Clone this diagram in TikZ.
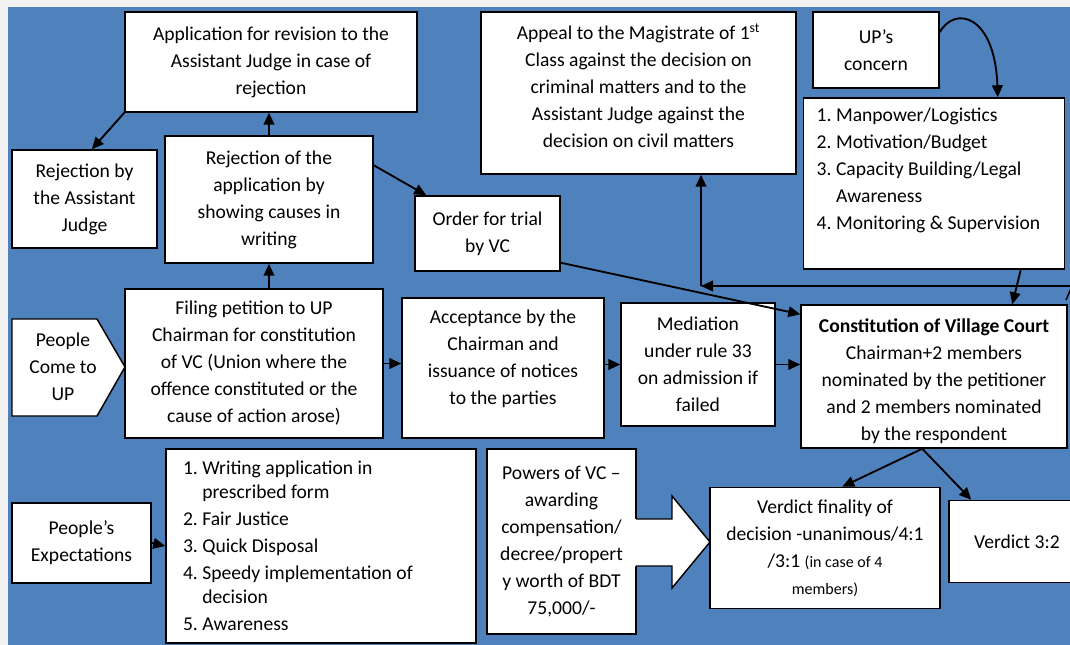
\documentclass[tikz,border=0pt]{standalone}
\usepackage{fontspec}
\setmainfont{Carlito}
\usetikzlibrary{arrows.meta,calc}
\definecolor{bgblue}{RGB}{79,129,189}
\definecolor{marg}{RGB}{242,242,242}
\newcommand{\fs}{\fontsize{14.7}{20.25}\selectfont}
\newcommand{\sm}{\fontsize{12}{17}\selectfont}
\newcommand{\nbr}[1]{\makebox[14.5pt][l]{#1}}
\newcommand{\ind}{\hspace*{14.5pt}}
\tikzset{
  box/.style={draw=black, line width=1.1pt, fill=white, inner sep=0pt, align=center, font=\fs},
  sz/.style 2 args={minimum width=#1*0.75pt, minimum height=#2*0.75pt},
  arr/.style={line width=1.4pt, -{Triangle[length=9pt,width=8pt]}},
  edgeline/.style={line width=1.1pt, line join=miter},
}
\begin{document}
\begin{tikzpicture}[x=0.75pt,y=-0.75pt]
\useasboundingbox (0,0) rectangle (1070,645);
\fill[marg] (0,0) rectangle (1070,645);
\fill[bgblue] (8,7) rectangle (1070,645);

% top row
\node[box, sz={292}{100}] (rev) at (271,62) {Application for revision to the\\Assistant Judge in case of\\rejection};
\node[box, sz={145}{98}] (rejaj) at (84.5,199) {Rejection by\\the Assistant\\Judge};
\node[box, sz={208}{127}] (rejapp) at (269,199.5) {Rejection of the\\application by\\showing causes in\\writing};
\node[box, sz={145}{75}] (order) at (487.5,233.5) {Order for trial\\by VC};
\node[box, sz={315}{162}] (appeal) at (638.5,93) {Appeal to the Magistrate of 1\textsuperscript{st}\\Class against the decision on\\criminal matters and to the\\Assistant Judge against the\\decision on civil matters\\[-9pt]\mbox{}};
\node[box, sz={126}{76}] (upc) at (876,50) {UP’s\\concern};
\node[box, sz={261}{171}, align=flush left, text width=176pt] (list4) at (934,183.5)
  {\nbr{1.}Manpower/Logistics\\\nbr{2.}Motivation/Budget\\\nbr{3.}Capacity Building/Legal\\\ind Awareness\\\nbr{4.}Monitoring \& Supervision\\[2.2pt]\mbox{}};

% middle row
\filldraw[fill=white, edgeline] (12,319) -- (97,319) -- (125,367) -- (97,416) -- (12,416) -- cycle;
\node[font=\fs, align=center, inner sep=0pt] (come) at (63,367) {People\\Come to\\UP};
\node[box, sz={258}{149}] (filing) at (254,363.5) {Filing petition to UP\\Chairman for constitution\\of VC (Union where the\\offence constituted or the\\cause of action arose)};
\node[box, sz={202}{140}] (accept) at (503,368) {Acceptance by the\\Chairman and\\issuance of notices\\to the parties\\[-4pt]\mbox{}};
\node[box, sz={154}{123}] (med) at (698,364.5) {Mediation\\under rule 33\\on admission if\\failed};
\node[box, sz={266}{143}] (const) at (934,376.5) {\mbox{}\\[-2.5pt]\textbf{Constitution of Village Court}\\Chairman+2 members\\nominated by the petitioner\\and 2 members nominated\\by the respondent};

% bottom row
\node[box, sz={139}{80}] (pexp) at (81.5,543) {People’s\\Expectations};
\node[box, sz={310}{194}, align=flush left, text width=207pt, font=\fontsize{14.7}{18}\selectfont] (list5) at (321,546)
  {\nbr{1.}Writing application in\\\ind prescribed form\\[2.25pt]\nbr{2.}Fair Justice\\[2.25pt]\nbr{3.}Quick Disposal\\[2.25pt]\nbr{4.}Speedy implementation of\\\ind decision\\[2.25pt]\nbr{5.}Awareness};
\node[box, sz={149}{185}] (powers) at (561.5,541.5) {Powers of VC –\\awarding\\compensation/\\decree/propert\\y worth of BDT\\75,000/-};
\fill[white] (634.5,519) -- (672,519) -- (672,496) -- (710,542) -- (672,588) -- (672,566) -- (634.5,566) -- cycle;
\draw[edgeline] (636,519) -- (672,519) -- (672,496) -- (710,542) -- (672,588) -- (672,566) -- (636,566);
\node[box, sz={230}{121}] (verdfin) at (825,548) {Verdict finality of\\decision -unanimous/4:1\\/3:1 {\sm (in case of 4}\\{\sm members)}};
\node[box, sz={136}{82}] (verd32) at (1017,541.5) {Verdict 3:2};

% connectors
\draw[arr] (rejapp.north) -- (rejapp.north |- rev.south);
\draw[arr] (rejapp.south |- filing.north) -- (rejapp.south);
\draw[arr] (rev.south west) -- ($(rejaj.north west)!0.55!(rejaj.north east)$);
\draw[arr] ($(rejapp.north east)+(0,30)$) -- ($(order.north west)+(12,0)$);
\draw[arr] ($(order.south east)+(0,-9)$) -- ($(const.north west)+(0,10)$);
\draw[arr] (filing.east) -- (filing.east -| accept.west);
\draw[arr] (accept.east |- med.west) -- (med.west);
\draw[arr] (med.east) -- (med.east -| const.west);
\draw[arr] ($(const.south west)+(122,0)$) -- ($(verdfin.north west)+(133,0)$);
\draw[arr] ($(const.south west)+(122,0)$) -- ($(verd32.north west)+(23,0)$);
\draw[arr] ($(list4.south west)+(218,0)$) -- ($(const.north west)+(212,0)$);
\draw[arr] ($(upc.north east)+(0,21)$) .. controls (955,5) and (995,15) .. ($(list4.north west)+(195,0)$);
\coordinate (hr) at (1075,286);
\coordinate (hc) at (701,286);
\draw[arr] (hr) -- (hc);
\draw[arr] (hc) -- (hc |- appeal.south);
\draw[arr] (pexp.east) -- (list5.west);
\coordinate (ea) at (1066,300);
\coordinate (eb) at (1072,286);
\draw[line width=1.1pt] (ea) -- (eb);
\end{tikzpicture}
\end{document}
